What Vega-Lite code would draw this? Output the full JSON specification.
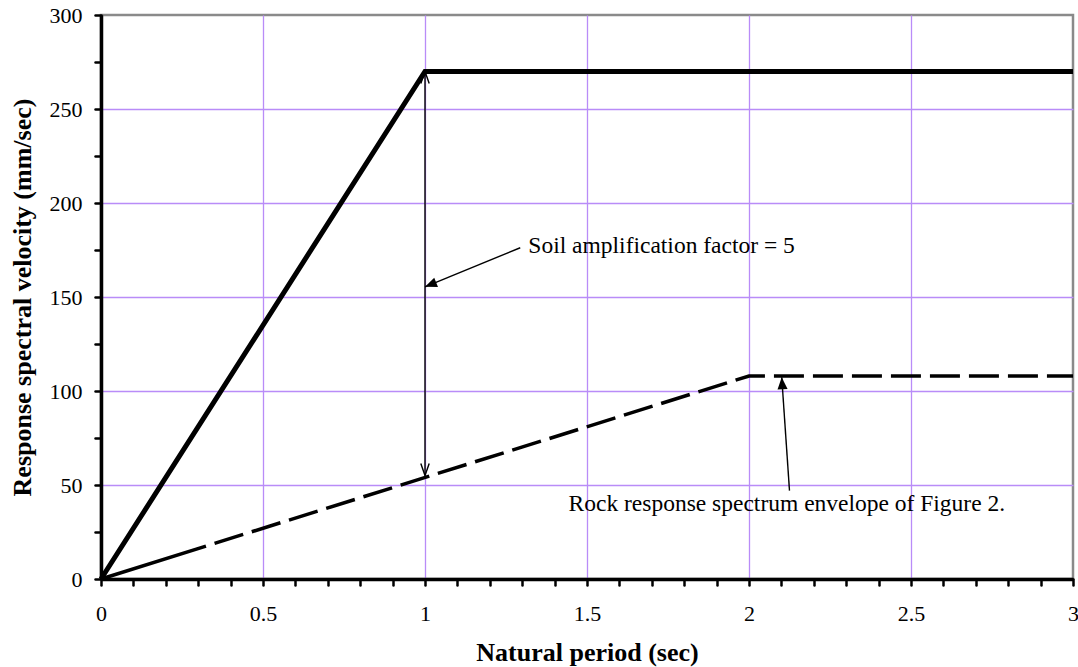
{
  "$schema": "https://vega.github.io/schema/vega-lite/v6.json",
  "width": 972,
  "height": 564,
  "autosize": "none",
  "padding": {"left": 101, "top": 15, "right": 5, "bottom": 88},
  "background": "white",
  "config": {
    "font": "Liberation Serif",
    "view": {"stroke": "#8a8a8a", "strokeWidth": 2.5}
  },
  "datasets": {
    "series": [
      {"series": "soil", "T": 0, "V": 0},
      {"series": "soil", "T": 1, "V": 270},
      {"series": "soil", "T": 3, "V": 270},
      {"series": "rock", "T": 0, "V": 0},
      {"series": "rock", "T": 2, "V": 108},
      {"series": "rock", "T": 3, "V": 108}
    ],
    "arrows": [
      {"id": "amp", "x": 1, "y": 270, "x2": 1, "y2": 55},
      {"id": "soil", "x": 1.294, "y": 176.2, "x2": 1.0, "y2": 155.4},
      {"id": "rock", "x": 2.125, "y": 47, "x2": 2.101, "y2": 107.3}
    ],
    "labels": [
      {"label": "Soil amplification factor = 5", "x": 1.319, "y": 173.5},
      {"label": "Rock response spectrum envelope of Figure 2.", "x": 1.443, "y": 36.3}
    ]
  },
  "layer": [
    {
      "data": {"name": "series"},
      "transform": [{"filter": "datum.series == 'soil'"}],
      "mark": {"type": "line", "color": "black", "strokeWidth": 5, "strokeJoin": "miter"},
      "encoding": {
        "x": {
          "field": "T", "type": "quantitative",
          "scale": {"domain": [0, 3], "nice": false, "zero": true},
          "axis": {
            "title": "Natural period (sec)",
            "values": [0, 0.1, 0.2, 0.3, 0.4, 0.5, 0.6, 0.7, 0.8, 0.9, 1, 1.1, 1.2, 1.3, 1.4, 1.5, 1.6, 1.7, 1.8, 1.9, 2, 2.1, 2.2, 2.3, 2.4, 2.5, 2.6, 2.7, 2.8, 2.9, 3],
            "tickCount": 100,
            "labelExpr": "abs(datum.value*2 - round(datum.value*2)) < 0.001 ? format(datum.value, '~g') : ''",
            "labelFontSize": 22, "labelColor": "black", "labelPadding": 18, "labelFlush": false, "labelOverlap": false,
            "domainColor": "black", "domainWidth": 3.5,
            "tickColor": "black", "tickWidth": 2.5, "tickSize": 6, "tickCap": "round",
            "grid": true, "gridColor": "#b98cf8", "gridWidth": 1.3,
            "gridOpacity": {"condition": {"test": "abs(datum.value*2 - round(datum.value*2)) < 0.001 && datum.value > 0.01 && datum.value < 2.99", "value": 1}, "value": 0},
            "titleFontSize": 26, "titleFontWeight": "bold", "titleColor": "black",
            "titleX": 486, "titleY": 73, "titleBaseline": "middle", "titleAlign": "center"
          }
        },
        "y": {
          "field": "V", "type": "quantitative",
          "scale": {"domain": [0, 300], "nice": false},
          "axis": {
            "title": "Response spectral velocity (mm/sec)",
            "values": [0, 25, 50, 75, 100, 125, 150, 175, 200, 225, 250, 275, 300],
            "tickCount": 100,
            "labelExpr": "datum.value % 50 == 0 ? format(datum.value, 'd') : ''",
            "labelFontSize": 22, "labelColor": "black", "labelPadding": 13, "labelFlush": false, "labelOverlap": false,
            "domainColor": "black", "domainWidth": 3.5,
            "tickColor": "black", "tickWidth": 2.5, "tickSize": 6, "tickCap": "round",
            "grid": true, "gridColor": "#b98cf8", "gridWidth": 1.3,
            "gridOpacity": {"condition": {"test": "datum.value % 50 == 0 && datum.value > 0 && datum.value < 300", "value": 1}, "value": 0},
            "titleFontSize": 26, "titleFontWeight": "bold", "titleColor": "black",
            "titleX": -79, "titleY": 282, "titleAngle": -90, "titleBaseline": "middle", "titleAlign": "center"
          }
        }
      }
    },
    {
      "data": {"name": "series"},
      "transform": [{"filter": "datum.series == 'rock'"}],
      "mark": {"type": "line", "color": "black", "strokeWidth": 3.5, "strokeDash": [110, 9, 30, 9, 30, 9, 30, 9, 30, 9, 30, 9, 30, 9, 30, 9, 30, 9, 30, 9, 30, 9, 30, 9, 30, 9, 30, 9, 30, 9, 30, 9, 30, 9, 30, 9, 30, 9, 30, 9, 30, 9, 30, 9, 30, 9, 30, 9, 30, 9, 30, 9, 30, 9, 30, 9, 30, 9, 30, 9]},
      "encoding": {
        "x": {"field": "T", "type": "quantitative"},
        "y": {"field": "V", "type": "quantitative"}
      }
    },
    {
      "data": {"name": "arrows"},
      "mark": {"type": "rule", "color": "black", "strokeWidth": 1.4},
      "encoding": {
        "x": {"field": "x", "type": "quantitative"},
        "y": {"field": "y", "type": "quantitative"},
        "x2": {"field": "x2"},
        "y2": {"field": "y2"}
      }
    },
    {
      "data": {"name": "arrows"},
      "transform": [{"filter": "datum.id == 'soil'"}],
      "mark": {"type": "point", "shape": "M0,0L-0.42,1L0.42,1Z", "filled": true, "color": "black", "opacity": 1, "size": 576, "angle": 248},
      "encoding": {
        "x": {"field": "x2", "type": "quantitative"},
        "y": {"field": "y2", "type": "quantitative"}
      }
    },
    {
      "data": {"name": "arrows"},
      "transform": [{"filter": "datum.id == 'rock'"}],
      "mark": {"type": "point", "shape": "M0,0L-0.42,1L0.42,1Z", "filled": true, "color": "black", "opacity": 1, "size": 576, "angle": 356},
      "encoding": {
        "x": {"field": "x2", "type": "quantitative"},
        "y": {"field": "y2", "type": "quantitative"}
      }
    },
    {
      "data": {"name": "arrows"},
      "transform": [{"filter": "datum.id == 'amp'"}],
      "mark": {"type": "point", "shape": "M-0.35,1L0,0L0.35,1", "filled": false, "color": "black", "opacity": 1, "strokeWidth": 1.4, "size": 576, "angle": 0},
      "encoding": {
        "x": {"field": "x", "type": "quantitative"},
        "y": {"field": "y", "type": "quantitative"}
      }
    },
    {
      "data": {"name": "arrows"},
      "transform": [{"filter": "datum.id == 'amp'"}],
      "mark": {"type": "point", "shape": "M-0.35,1L0,0L0.35,1", "filled": false, "color": "black", "opacity": 1, "strokeWidth": 1.4, "size": 576, "angle": 180},
      "encoding": {
        "x": {"field": "x2", "type": "quantitative"},
        "y": {"field": "y2", "type": "quantitative"}
      }
    },
    {
      "data": {"name": "labels"},
      "mark": {"type": "text", "align": "left", "baseline": "alphabetic", "fontSize": 23.5, "color": "black"},
      "encoding": {
        "x": {"field": "x", "type": "quantitative"},
        "y": {"field": "y", "type": "quantitative"},
        "text": {"field": "label"}
      }
    }
  ]
}
